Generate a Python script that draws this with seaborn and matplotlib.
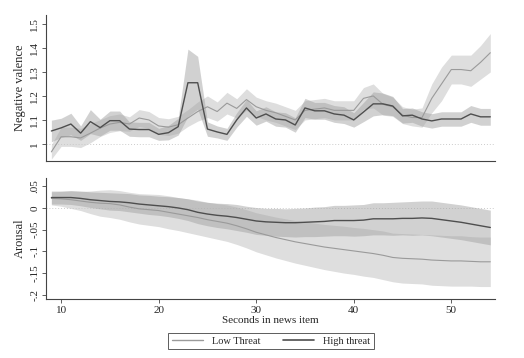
import numpy as np
import pandas as pd
import seaborn as sns
from matplotlib import pyplot as plt
from matplotlib.lines import Line2D

seconds = list(range(9, 55))

# negative valence (top panel)
valence_high = [1.054, 1.067, 1.083, 1.045, 1.093, 1.068, 1.097, 1.097, 1.062, 1.06,
                1.06, 1.04, 1.047, 1.072, 1.255, 1.255, 1.062, 1.05, 1.04, 1.10,
                1.15, 1.108, 1.125, 1.104, 1.10, 1.079, 1.15, 1.138, 1.138, 1.125,
                1.12, 1.10, 1.133, 1.167, 1.167, 1.158, 1.117, 1.12, 1.104, 1.096,
                1.104, 1.104, 1.104, 1.125, 1.113, 1.113]
valence_high_ci = [0.045, 0.04, 0.045, 0.03, 0.05, 0.035, 0.04, 0.04, 0.03, 0.03,
                   0.03, 0.025, 0.03, 0.035, 0.14, 0.11, 0.03, 0.025, 0.025, 0.03,
                   0.035, 0.03, 0.03, 0.03, 0.03, 0.03, 0.04, 0.035, 0.035, 0.035,
                   0.035, 0.03, 0.04, 0.05, 0.045, 0.04, 0.03, 0.03, 0.03, 0.03,
                   0.03, 0.03, 0.03, 0.035, 0.035, 0.035]
valence_low = [0.967, 1.03, 1.03, 1.025, 1.045, 1.066, 1.083, 1.09, 1.083, 1.108,
               1.10, 1.075, 1.07, 1.08, 1.108, 1.135, 1.155, 1.135, 1.17, 1.148,
               1.185, 1.155, 1.14, 1.13, 1.115, 1.10, 1.14, 1.145, 1.15, 1.14,
               1.14, 1.14, 1.19, 1.20, 1.165, 1.155, 1.12, 1.11, 1.11, 1.19,
               1.25, 1.31, 1.31, 1.305, 1.34, 1.38]
valence_low_ci = [0.03, 0.04, 0.04, 0.04, 0.04, 0.035, 0.035, 0.035, 0.03, 0.035,
                  0.035, 0.035, 0.035, 0.035, 0.035, 0.04, 0.045, 0.04, 0.045, 0.04,
                  0.045, 0.04, 0.04, 0.04, 0.04, 0.04, 0.04, 0.04, 0.04, 0.04,
                  0.04, 0.04, 0.045, 0.05, 0.045, 0.04, 0.035, 0.035, 0.04, 0.06,
                  0.07, 0.06, 0.06, 0.065, 0.07, 0.08]

# arousal (bottom panel)
arousal_high = [0.024, 0.024, 0.024, 0.022, 0.019, 0.017, 0.015, 0.014, 0.012, 0.009,
                0.007, 0.005, 0.003, 0.0, -0.004, -0.01, -0.014, -0.017, -0.019, -0.022,
                -0.026, -0.03, -0.032, -0.033, -0.034, -0.034, -0.033, -0.032, -0.031, -0.029,
                -0.029, -0.029, -0.028, -0.025, -0.025, -0.025, -0.024, -0.024, -0.023, -0.024,
                -0.027, -0.03, -0.033, -0.037, -0.041, -0.045]
arousal_high_ci = [0.015, 0.015, 0.016, 0.017, 0.018, 0.019, 0.02, 0.02, 0.021, 0.021,
                   0.022, 0.022, 0.023, 0.024, 0.025, 0.026, 0.027, 0.028, 0.029, 0.03,
                   0.03, 0.031, 0.031, 0.032, 0.032, 0.033, 0.033, 0.034, 0.034, 0.035,
                   0.035, 0.036, 0.036, 0.037, 0.037, 0.038, 0.038, 0.039, 0.039, 0.04,
                   0.04, 0.04, 0.04, 0.04, 0.04, 0.04]
arousal_low = [0.022, 0.021, 0.019, 0.016, 0.013, 0.011, 0.01, 0.007, 0.002, -0.002,
               -0.004, -0.006, -0.01, -0.014, -0.018, -0.022, -0.027, -0.031, -0.035, -0.041,
               -0.048, -0.056, -0.062, -0.068, -0.073, -0.078, -0.082, -0.086, -0.09, -0.093,
               -0.096, -0.099, -0.102, -0.105, -0.109, -0.114, -0.116, -0.117, -0.118, -0.12,
               -0.121, -0.122, -0.122, -0.123, -0.124, -0.124]
arousal_low_ci = [0.015, 0.017, 0.02, 0.022, 0.026, 0.03, 0.032, 0.033, 0.034, 0.035,
                  0.036, 0.037, 0.038, 0.038, 0.039, 0.04, 0.04, 0.041, 0.042, 0.043,
                  0.044, 0.045, 0.046, 0.047, 0.048, 0.049, 0.05, 0.051, 0.052, 0.053,
                  0.054, 0.054, 0.055, 0.055, 0.056, 0.056, 0.057, 0.057, 0.057, 0.058,
                  0.058, 0.058, 0.058, 0.057, 0.057, 0.057]

sns.set_theme(style="white")
plt.rcParams['font.family'] = ['Liberation Serif', 'DejaVu Serif']

low_line = "#9a9a9a"
high_line = "#4e4e4e"

fig = plt.figure(figsize=(5.24, 3.58), dpi=100)
ax_top = fig.add_axes([0.088, 0.5503, 0.857, 0.408])
ax_bot = fig.add_axes([0.088, 0.1648, 0.857, 0.338])


def draw_panel(ax, low, low_ci, high, high_ci):
    df = pd.DataFrame({"sec": seconds, "low": low, "high": high})
    low = np.array(low)
    high = np.array(high)
    ax.fill_between(seconds, low - np.array(low_ci), low + np.array(low_ci),
                    color="#c8c8c8", alpha=0.6, lw=0)
    ax.fill_between(seconds, high - np.array(high_ci), high + np.array(high_ci),
                    color="#a0a0a0", alpha=0.48, lw=0)
    sns.lineplot(data=df, x="sec", y="low", ax=ax, color=low_line, lw=0.8)
    sns.lineplot(data=df, x="sec", y="high", ax=ax, color=high_line, lw=1.0)
    ax.set_xlim(8.46, 54.5)
    for s in ["top", "right"]:
        ax.spines[s].set_visible(False)
    for s in ["left", "bottom"]:
        ax.spines[s].set_color("#444444")
        ax.spines[s].set_linewidth(0.8)
    ax.tick_params(axis="y", direction="out", length=3, width=0.6, color="#444444",
                   labelsize=8, left=True, pad=2)


draw_panel(ax_top, valence_low, valence_low_ci, valence_high, valence_high_ci)
ax_top.axhline(1, color="#cccccc", lw=0.7, ls=(0, (1, 2)), zorder=0)
ax_top.set_ylim(0.929, 1.5375)
ax_top.set_yticks([1, 1.1, 1.2, 1.3, 1.4, 1.5])
ax_top.set_yticklabels(["1", "1.1", "1.2", "1.3", "1.4", "1.5"], rotation=90, va="center")
ax_top.set_xticks([])
ax_top.set_xlabel("")
ax_top.set_ylabel("Negative valence", fontsize=9, labelpad=3)

draw_panel(ax_bot, arousal_low, arousal_low_ci, arousal_high, arousal_high_ci)
ax_bot.axhline(0, color="#cccccc", lw=0.7, ls=(0, (1, 2)), zorder=0)
ax_bot.set_ylim(-0.2097, 0.069)
ax_bot.set_yticks([0.05, 0, -0.05, -0.1, -0.15, -0.2])
ax_bot.set_yticklabels([".05", "0", "-.05", "-.1", "-.15", "-.2"], rotation=90, va="center")
ax_bot.set_xticks([10, 20, 30, 40, 50])
ax_bot.tick_params(axis="x", direction="out", length=3, width=0.6, color="#444444",
                   labelsize=8, bottom=True, pad=2)
ax_bot.set_xlabel("Seconds in news item", fontsize=8, labelpad=1)
ax_bot.set_ylabel("Arousal", fontsize=9, labelpad=3)

handles = [Line2D([], [], color=low_line, lw=1.0), Line2D([], [], color=high_line, lw=1.2)]
leg = fig.legend(handles, ["Low Threat", "High threat"], ncol=2, loc="center",
                 bbox_to_anchor=(0.517, 0.0475), fontsize=7.5, frameon=True,
                 fancybox=False, handlelength=3.0, columnspacing=2.1,
                 borderpad=0.35, handletextpad=0.9, borderaxespad=0)
leg.get_frame().set_edgecolor("#333333")
leg.get_frame().set_linewidth(0.7)

fig.savefig("out.png", dpi=100)
